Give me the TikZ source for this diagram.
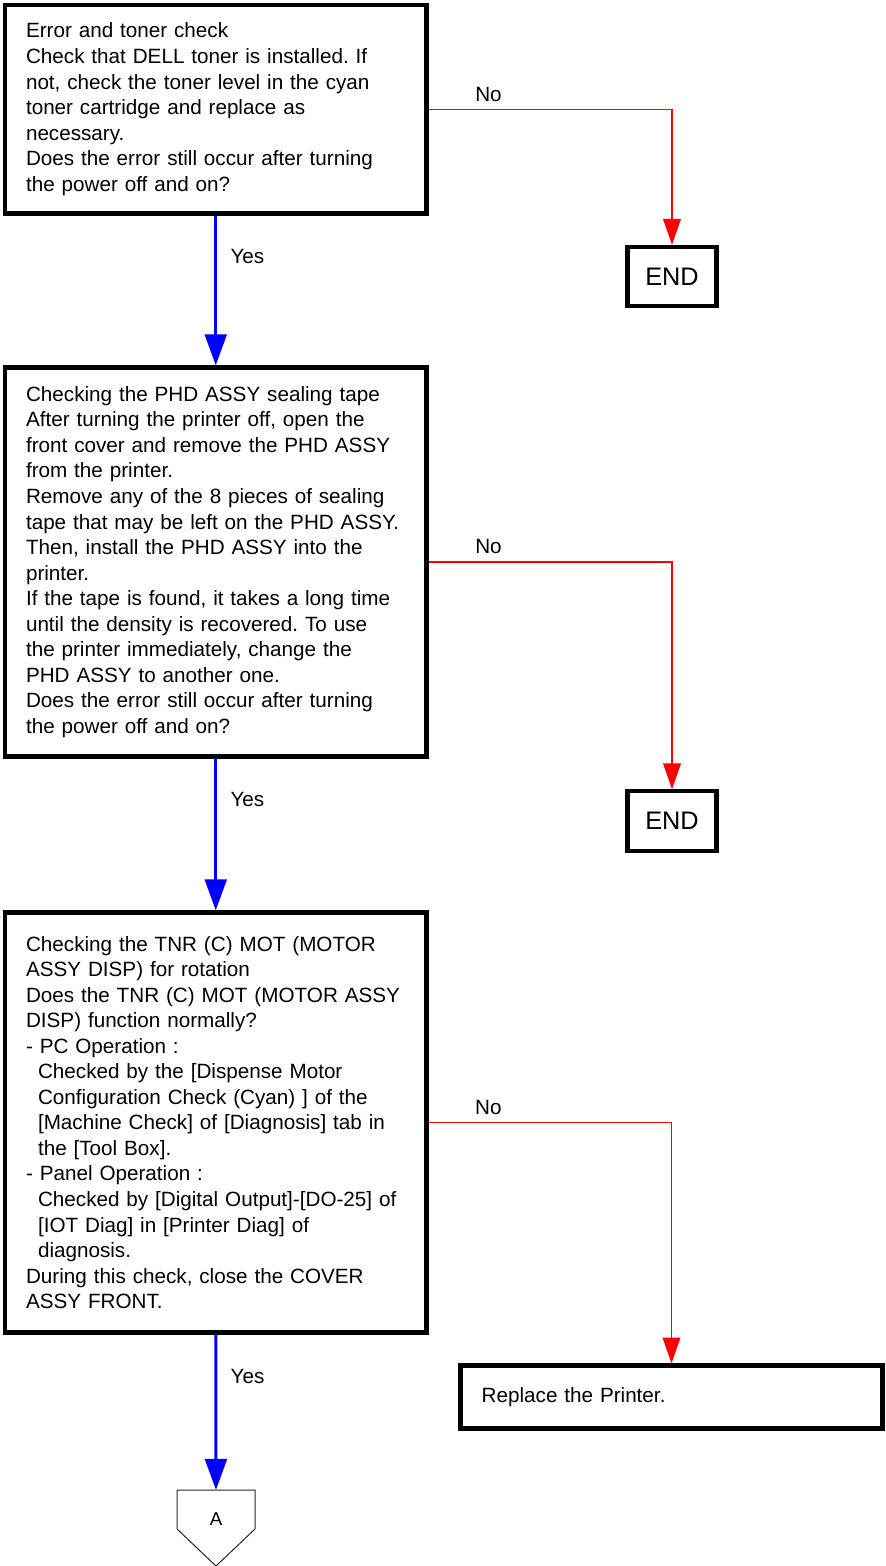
\documentclass[tikz,border=0pt]{standalone}
\usepackage{fontspec}
\setmainfont{Liberation Sans}
\frenchspacing
\usetikzlibrary{arrows.meta, positioning}
\tikzstyle{stepbox} = [rectangle, draw=black, line width=3.2pt,
    minimum width=316.1pt, text width=284.6pt, inner xsep=15.75pt,
    align=left, font=\fontsize{15.5}{19.15}\selectfont]
\tikzstyle{endbox}  = [rectangle, draw=black, line width=3.2pt,
    minimum width=66.75pt, minimum height=44.5pt,
    font=\fontsize{19}{22.8}\selectfont]
\tikzstyle{actbox}  = [stepbox, minimum width=316.5pt, text width=284.7pt,
    inner xsep=15.9pt, minimum height=47.25pt]
\tikzstyle{connbox} = [rectangle, minimum width=58.5pt, minimum height=43.5pt,
    inner sep=0pt, outer sep=0pt, font=\fontsize{14}{16.8}\selectfont]
\tikzstyle{lbl}     = [inner sep=0pt, text=black, font=\fontsize{15.5}{18.6}\selectfont]
\tikzstyle{yesarrow} = [-{Triangle[width=16.3pt, length=23.3pt]}, blue, line width=2.25pt]
\tikzstyle{noarrow}  = [-{Triangle[width=13.3pt, length=19.3pt]}, red, line width=0.8pt]
\newcommand{\ind}{\hspace*{9pt}}

\begin{document}
\begin{tikzpicture}[x=0.75pt, y=-0.75pt]
  \useasboundingbox (0,0) rectangle (885,1566);

  \node[stepbox, minimum height=156.4pt] (b1) at (215.75,109.25) {Error and toner check\\
    Check that DELL toner is installed. If\\
    not, check the toner level in the cyan\\
    toner cartridge and replace as\\
    necessary.\\
    Does the error still occur after turning\\
    the power off and on?};
  \node[stepbox, minimum height=291.75pt] (b2) at (215.75,562) {Checking the PHD ASSY sealing tape\\
    After turning the printer off, open the\\
    front cover and remove the PHD ASSY\\
    from the printer.\\
    Remove any of the 8 pieces of sealing\\
    tape that may be left on the PHD ASSY.\\
    Then, install the PHD ASSY into the\\
    printer.\\
    If the tape is found, it takes a long time\\
    until the density is recovered. To use\\
    the printer immediately, change the\\
    PHD ASSY to another one.\\
    Does the error still occur after turning\\
    the power off and on?};
  \node[stepbox, minimum height=315pt] (b3) at (215.75,1122.5) {Checking the TNR (C) MOT (MOTOR\\
    ASSY DISP) for rotation\\
    Does the TNR (C) MOT (MOTOR ASSY\\
    DISP) function normally?\\
    - PC Operation :\\
    \ind Checked by the {[}Dispense Motor\\
    \ind Configuration Check (Cyan) {]} of the\\
    \ind{[}Machine Check{]} of {[}Diagnosis{]} tab in\\
    \ind the {[}Tool Box{]}.\\
    - Panel Operation :\\
    \ind Checked by {[}Digital Output{]}-{[}DO-25{]} of\\
    \ind{[}IOT Diag{]} in {[}Printer Diag{]} of\\
    \ind diagnosis.\\
    During this check, close the COVER\\
    ASSY FRONT.};

  \node[endbox] (e1) at (672,276.5) {END};
  \node[endbox] (e2) at (672,821) {END};
  \node[actbox] (rp) at (671.5,1397) {Replace the Printer.};
  \node[connbox] (A) at (216,1519) {A};
  \draw[black!85, line width=0.75pt] (A.north west) -- (A.north east) -- ++(0,39)
    -- ++(-39,37) -- ++(-39,-37) -- cycle;

  % yes branches
  \draw[yesarrow] (b1.south) -- node[lbl, pos=0.27, right=10pt] {Yes} (b2.north);
  \draw[yesarrow] (b2.south) -- node[lbl, pos=0.27, right=10pt] {Yes} (b3.north);
  \draw[yesarrow] (b3.south) -- node[lbl, pos=0.27, right=10pt] {Yes} (A.north);
  % no branches
  \draw[noarrow] (b1.east) -| node[lbl, pos=0.123, above=5.5pt] {No} (e1.north);
  \draw[noarrow] (b2.east) -| node[lbl, pos=0.123, above=5.5pt] {No} (e2.north);
  \draw[noarrow] (b3.east) -| node[lbl, pos=0.123, above=5.5pt] {No} (rp.north);
\end{tikzpicture}
\end{document}
